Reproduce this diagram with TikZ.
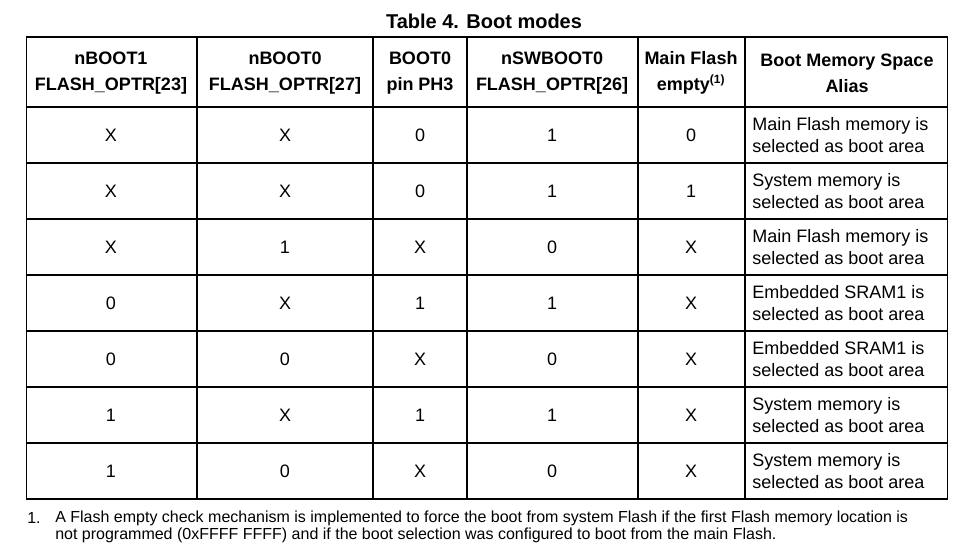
\documentclass[tikz,border=0pt]{standalone}
\usepackage{fontspec}
\setmainfont{Liberation Sans}
\usetikzlibrary{positioning}

\begin{document}
\begin{tikzpicture}[
                x=0.75pt, y=-0.75pt,
                every node/.style={font=\fontsize{13.5}{16}\selectfont, inner sep=0pt},
                head/.style={font=\fontsize{13.5}{19.5}\selectfont\bfseries, align=center},
                cell/.style={anchor=center},
                alias/.style={anchor=west, align=left, font=\fontsize{13.5}{16.5}\selectfont},
                grid/.style={line width=0.8pt},
                note/.style={anchor=west, align=left, font=\fontsize{12}{10.5}\selectfont}
            ]
                \useasboundingbox (0,0) rectangle (980,555);

                % Title
                \node (title) at (484,21) {\fontsize{15}{17}\selectfont\bfseries Table 4. Boot modes};

                % Grid
                \draw [grid] (26.5,37) rectangle (947.5,499);
                \foreach \x in {197,373,467,638,745}
                    \draw [grid] (\x,37) -- (\x,499);
                \foreach \y in {163,219,275,331,387,443}
                    \draw [grid] (26.5,\y) -- (947.5,\y);
                \draw [line width=2.2pt] (26.5,107) -- (947.5,107);

                % Header
                \node (h1) [head] at (111,73) {nBOOT1\\FLASH\_OPTR[23]};
                \node (h2) [head] at (285,73) {nBOOT0\\FLASH\_OPTR[27]};
                \node (h3) [head] at (420,73) {BOOT0\\pin PH3};
                \node (h4) [head] at (552,73) {nSWBOOT0\\FLASH\_OPTR[26]};
                \node (h5) [head] at (691,73) {Main Flash\\empty\textsuperscript{\fontsize{9}{9}\selectfont(1)}};
                \node (h6) [head] at (847,73) {Boot Memory Space\\Alias};

                % Rows
                \foreach \a/\b/\c/\d/\e/\t [count=\i] in {
                    X/X/0/1/0/Main Flash memory is,
                    X/X/0/1/1/System memory is,
                    X/1/X/0/X/Main Flash memory is,
                    0/X/1/1/X/Embedded SRAM1 is,
                    0/0/X/0/X/Embedded SRAM1 is,
                    1/X/1/1/X/System memory is,
                    1/0/X/0/X/System memory is}
                {
                    \pgfmathsetmacro{\yy}{79+56*\i}
                    \node (r\i a) [cell] at (111,\yy) {\a};
                    \node (r\i b) [cell] at (285,\yy) {\b};
                    \node (r\i c) [cell] at (420,\yy) {\c};
                    \node (r\i d) [cell] at (552,\yy) {\d};
                    \node (r\i e) [cell] at (691,\yy) {\e};
                    \node (r\i f) [alias] at (752,\yy) {\t\\selected as boot area};
                }

                % Footnote
                \node (fn) [note] at (27,518) {1.};
                \node (fntext) [note, anchor=north west] at (55,511) {A Flash empty check mechanism is implemented to force the boot from system Flash if the first Flash memory location is\\not programmed (0xFFFF FFFF) and if the boot selection was configured to boot from the main Flash.};

            \end{tikzpicture}
\end{document}
